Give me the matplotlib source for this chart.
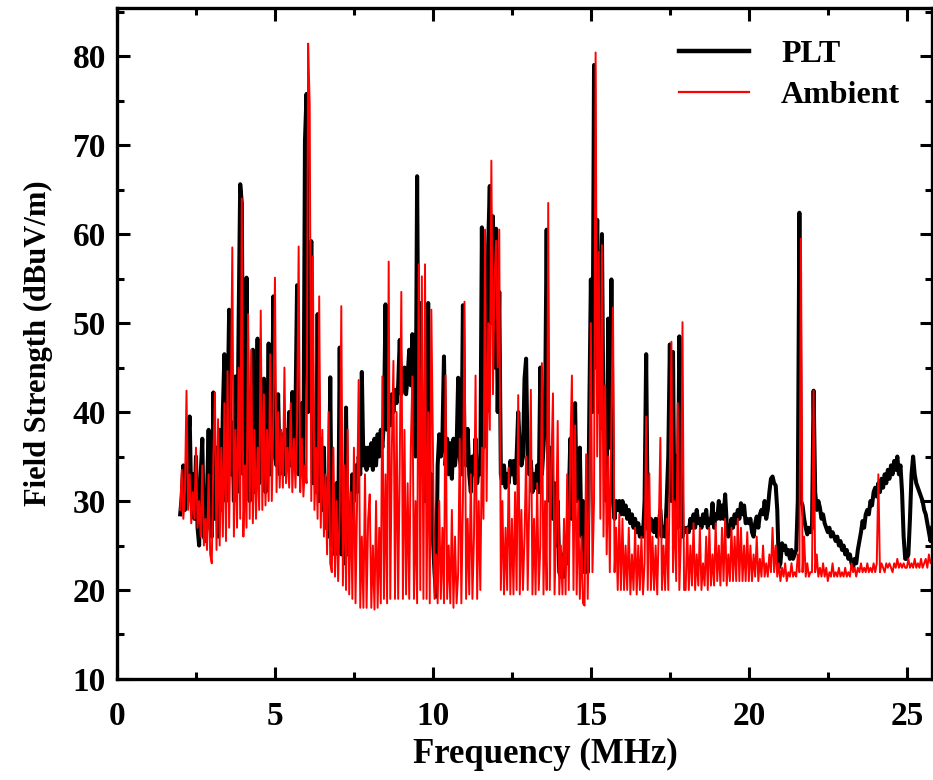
import numpy as np
import matplotlib
matplotlib.use("Agg")
import matplotlib.pyplot as plt
from matplotlib.ticker import MultipleLocator

# spectrum readings, 0.05 MHz apart starting at 2.00 MHz (one row per MHz)
plt_db = [
    28.5, 30.5, 34, 29, 31, 36.5, 39.5, 30, 33, 28, 35, 27, 25, 33, 37, 26, 25.5, 31, 38, 27,
    26, 42.2, 28, 36, 26, 38, 29, 40, 46.5, 30, 40, 51.5, 33, 38.8, 30, 44, 31, 50, 65.6, 63.5,
    33, 40, 55.1, 35, 30, 40, 47, 31, 37, 48.25, 32, 38, 34, 43.75, 31, 36, 47.7, 33, 37, 53,
    35, 34, 42, 33, 36, 37.5, 33, 38, 34, 40, 34, 42.25, 35, 40, 54.25, 33, 35, 41, 33, 70.5,
    75.75, 40, 45, 59.2, 32, 38, 31, 51, 30, 37, 29, 36, 27, 32.5, 26, 43.9, 25, 30, 24, 32,
    25, 47.25, 24, 30, 23, 40.5, 24, 29, 28, 33, 30, 34, 31, 35, 33, 44.5, 34, 36, 33.5, 36,
    34, 36.5, 33.5, 37, 34, 37.5, 35, 38, 36, 39, 52.1, 38, 40, 38.5, 42, 40, 42.5, 41, 43, 48.1,
    42, 44, 45, 42, 44, 47, 43, 48.75, 40, 35, 66.5, 38, 52.25, 33, 36, 30, 42, 52.25, 28, 33,
    26, 22, 19.25, 34, 37.5, 35, 37, 46.25, 34, 37, 33, 36.5, 32.5, 37, 34, 36, 43.85, 35, 33, 52,
    36, 34, 38.1, 33, 31, 35, 33, 37, 32, 34, 33, 60.75, 36, 45, 40, 58.75, 65.4, 50, 62, 45,
    60.6, 40, 53.5, 33, 32, 34, 31.5, 33, 32, 34.5, 33, 34.5, 32, 35, 40, 36, 34, 35, 43.75, 46,
    34, 33, 34.5, 31, 33, 31.5, 34, 31, 45, 33, 36, 40, 60.5, 35, 30, 36, 28, 32, 25, 30,
    22, 21.5, 24, 21.5, 26, 23, 30, 37, 28, 33, 41, 30, 34, 36, 26, 30, 22, 28, 22, 40,
    54.9, 40, 79, 45, 61.6, 40, 50, 60, 38, 42, 30, 50.5, 36, 54.9, 30, 28, 30, 29, 30, 28.5,
    30, 28.5, 29.5, 28, 29, 27.5, 28.5, 27, 28, 26.5, 27.5, 26, 27, 26, 30, 46.5, 27, 26.5, 28, 27,
    26.5, 28, 26, 27.5, 29, 26, 27, 26, 30, 35, 47.6, 30, 46.75, 26, 35, 27, 48.5, 40, 26, 27,
    26.5, 27, 26.5, 28, 27, 28.5, 27, 29, 27.5, 28, 27, 28.5, 27.5, 29, 27, 28, 27.5, 29.75, 27, 28.5,
    28, 30, 28, 29.5, 28, 30.75, 27.5, 26, 26.5, 28, 27, 28.5, 27.5, 29, 28, 29.75, 28.5, 29.5, 27.5, 28,
    27.5, 28, 26.5, 26, 27.5, 28.25, 27, 28.5, 29, 28.5, 30, 28, 29, 31, 32.5, 32.75, 32, 31.75, 29, 22.5,
    23, 25.25, 24.5, 25, 24, 24.5, 23.5, 24.5, 23.5, 24, 24.5, 30, 62.4, 30, 29.5, 28, 27, 26.25, 27, 26.5,
    27, 42.4, 31, 29, 30, 29.25, 28, 28.5, 27.5, 27, 26.5, 27, 26, 26.5, 26, 25.5, 26, 25, 25.5, 24.5,
    25, 24, 24.5, 23.5, 24, 23, 22.5, 23.5, 23, 24.5, 25.5, 26.5, 27.75, 27, 28.5, 29, 28.5, 30, 29.5, 31,
    31.5, 30.5, 32, 31, 32.5, 31.5, 33, 32, 33.5, 32.5, 34, 33, 34.5, 33.5, 35, 33, 34, 31, 26, 23.5,
    23.5, 24, 28, 33, 35, 33, 32, 31.5, 31, 30.5, 30, 29, 28.5, 27.5, 26.5, 25.5, 27,
]

ambient_db = [
    29, 33.5, 28, 31, 42.4, 29, 33, 27.5, 31, 28, 36, 27, 30, 26, 34, 25, 28, 24.5, 33, 24,
    23, 35, 42.2, 24.5, 39.2, 25, 36, 26, 41, 25.5, 44.6, 27, 40, 58.5, 26, 38, 27, 45, 28, 64,
    26, 34, 27, 51, 28, 47, 27.5, 38, 28, 36, 29, 51.4, 29, 42, 29.5, 38, 30, 46.5, 30, 40,
    55.1, 31, 40, 31.5, 38, 31.5, 45, 32, 36, 31.5, 41, 31, 37, 31.5, 39, 58.6, 31, 37, 30.5, 34,
    32, 81.4, 74.5, 30, 57.5, 29, 36, 28, 53, 27, 38, 26, 33, 24, 40, 23, 22, 36, 21.5, 30,
    21, 29, 51.9, 20.5, 34, 20, 38, 19.5, 31, 19, 36, 18.5, 30, 43.6, 18, 26, 18, 33, 18, 28,
    30.75, 18, 25, 17.8, 30, 18, 27, 18.5, 44, 19, 33, 18.5, 56.9, 19, 36, 45.75, 19, 40, 19, 34,
    53.5, 19, 38, 19.5, 32, 19, 36, 44, 19, 30, 18.5, 56.6, 20, 55.25, 19, 56.6, 19, 40, 18.5, 51.5,
    36.25, 19, 24, 18.5, 30, 19, 27, 18.5, 44.1, 19, 25, 18.5, 29, 18, 26, 18.5, 22, 37, 18.5, 30,
    52.4, 19, 28, 19.5, 33, 19, 26, 44.1, 19, 30, 20, 36, 28, 60.5, 30, 50, 38, 68.25, 42, 55,
    59.25, 45, 60.5, 20, 30, 19.5, 27, 20, 33.75, 19.5, 28, 19.5, 31, 20, 41.9, 19.5, 29, 20, 26, 35,
    20, 30, 42.5, 19.5, 28, 19.5, 32, 20, 25, 45.5, 19.5, 30, 20, 63.5, 20, 34, 42.1, 19.5, 27, 39,
    19.5, 25, 19.5, 28, 19.5, 33, 20, 36, 44.1, 20, 38.5, 19.5, 30, 19, 26, 18.5, 18.25, 35.25, 19, 30,
    50, 22, 30, 80.4, 35, 58, 28, 58.75, 26, 43, 24, 35, 22, 40, 51.75, 22, 27, 20, 28.5, 20,
    28, 20, 25, 20, 27, 19.5, 24, 20, 27, 19.5, 25, 20, 26, 19.5, 23, 39.5, 20, 33.1, 20, 26,
    20, 25, 19.5, 27, 37.1, 20, 25, 20, 28, 20, 34, 47.9, 22, 30, 21, 41, 20, 26, 50.1, 20,
    20, 27, 20, 25, 20.5, 27.5, 20, 24, 20.5, 27, 20, 23, 20.5, 26, 20, 27, 20.5, 24, 20.5, 27.5,
    21, 25, 20.5, 27, 21, 28, 20.5, 24, 21, 27, 21, 26, 21, 28, 21, 27, 21, 25, 21, 26.5,
    21, 25, 21, 24, 21.5, 26, 21, 23.5, 21.5, 25, 21.5, 23, 21.5, 24, 22, 27, 22, 25, 21.5, 23,
    21, 22.5, 21.5, 23, 21, 22, 21.5, 23, 21.5, 22, 21.5, 24, 22, 59.5, 22, 26, 21.5, 23, 21.5, 22,
    22, 42.4, 22, 24, 21.5, 22.5, 21.5, 23, 21.5, 22.5, 21, 22, 21.5, 23, 21.5, 22, 21.5, 22.5, 21.5, 22,
    21.5, 22.5, 21.5, 22, 21.5, 23, 22, 22.5, 21.5, 22.5, 22, 23, 22, 22.5, 22, 23, 22, 22.5, 22, 23,
    22, 23, 33, 22, 23, 22.5, 22, 23, 22.5, 23, 22.5, 22, 23, 22.5, 23.5, 22.5, 23, 22.5, 23, 22.5,
    22.5, 23.5, 22.5, 23, 22.5, 23.5, 22.5, 23, 22.5, 23.5, 22.5, 23, 23.5, 22.5, 24, 23, 23.5,
]

freq = np.round(2.0 + 0.05 * np.arange(len(plt_db)), 2)

serif = ["Liberation Serif", "DejaVu Serif"]
plt.rcParams["font.family"] = serif
plt.rcParams["font.weight"] = "bold"

fig = plt.figure(figsize=(9.33, 7.8), dpi=100)
ax = fig.add_axes([0.1254, 0.1295, 0.8736, 0.8602])

ax.plot(freq, plt_db, color="black", lw=2.9, label="PLT")
ax.plot(freq, ambient_db, color="red", lw=1.4, label="Ambient")

ax.set_xlim(0, 25.8)
ax.set_ylim(10, 85.4)
ax.xaxis.set_major_locator(MultipleLocator(5))
ax.xaxis.set_minor_locator(MultipleLocator(2.5))
ax.yaxis.set_major_locator(MultipleLocator(10))
ax.yaxis.set_minor_locator(MultipleLocator(5))

ax.tick_params(which="both", direction="in", top=True, right=True, width=2.2)
ax.tick_params(which="major", length=9, labelsize=24)
ax.tick_params(axis="x", which="major", pad=16)
ax.tick_params(axis="y", which="major", pad=8)
ax.tick_params(which="minor", length=5)
for s in ax.spines.values():
    s.set_linewidth(2.4)

ax.set_xlabel("Frequency (MHz)", fontsize=25, fontweight="bold")
ax.xaxis.set_label_coords(0.526, -0.088)
ax.set_ylabel("Field Strength (dBuV/m)", fontsize=22, fontweight="bold", labelpad=14)

leg = ax.legend(loc="upper right", frameon=False, fontsize=23, handlelength=2.2,
                handletextpad=1.0, borderaxespad=0.6, labelspacing=0.35)
leg.get_lines()[0].set_linewidth(3.2)
leg.get_lines()[1].set_linewidth(1.6)

fig.savefig("out.png", dpi=100)
